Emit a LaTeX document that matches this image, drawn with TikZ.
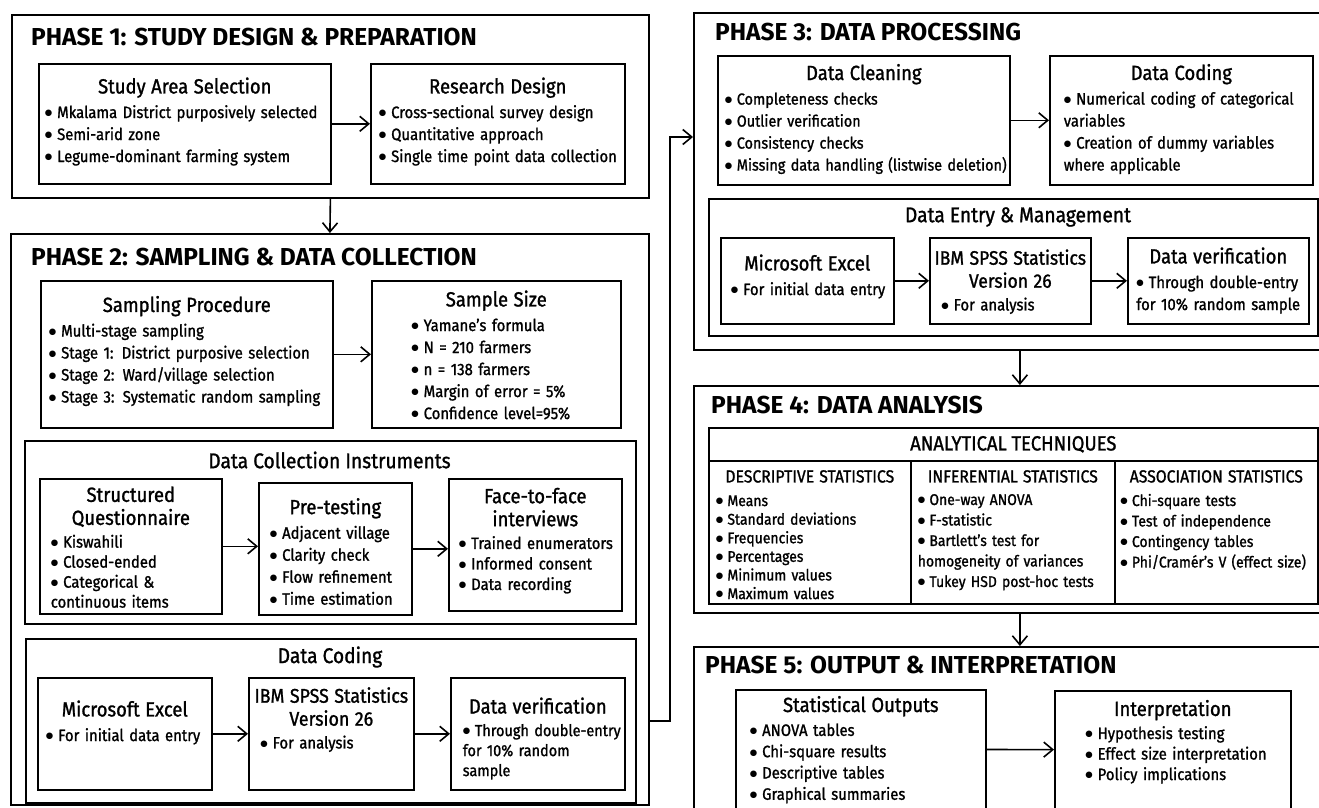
\documentclass[tikz,border=0pt]{standalone}
\usepackage{fontspec}
\setmainfont{Fira Sans}[FakeStretch=0.9, FakeBold=1.2]
\newfontfamily\titlefont{Fira Sans}[FakeStretch=1.0]
\newfontfamily\dotfont{DejaVu Sans}
\usetikzlibrary{arrows.meta,positioning,calc}

% box header, bullet line, continued line and extra room below
\newcommand{\hd}[2][20.5]{\par\noindent\makebox[\linewidth]{\fontsize{#1}{23}\selectfont
    \begin{tabular}{@{}c@{}}#2\end{tabular}}\par\vspace{2pt}}
\newcommand{\bl}[1]{\par\noindent\hangindent=0.75em\hangafter=1%
    \makebox[0.75em][l]{\raisebox{2.2pt}{\dotfont\fontsize{8.5}{9}\selectfont ●}}\mbox{#1}}
\newcommand{\more}[1]{\\\mbox{#1}}
\newcommand{\lift}[1]{\par\nointerlineskip\vspace{#1}\hbox{}}

\begin{document}
\begin{tikzpicture}[x=1pt,y=-1pt,
    phase/.style={draw, line width=1.8pt, anchor=north west, inner sep=0pt},
    ptitle/.style={anchor=west, inner sep=0pt, font=\titlefont\bfseries\fontsize{24.5}{28}\selectfont},
    box/.style={draw, line width=1.6pt, anchor=north west, inner sep=0pt, align=left,
        font=\fontsize{16.5}{22}\selectfont},
    stitle/.style={inner sep=0pt, font=\fontsize{21.3}{24}\selectfont},
    flow/.style={line width=1.6pt, -{Straight Barb[length=9pt,width=15pt,line width=1.6pt]}}]

    \useasboundingbox (0,0) rectangle (1319,807);
    \clip (0,0) rectangle (1319,807);

    % Phase 1
    \node[phase, minimum width=637pt, minimum height=183pt] (p1) at (11,14) {};
    \node[ptitle] (t1) at (31,37) {PHASE 1: STUDY DESIGN \& PREPARATION};
    \node[box, minimum width=292pt, minimum height=120pt, text width=280pt] (area) at (38,63) {%
        \hd{Study Area Selection}\bl{Mkalama District purposively selected}\bl{Semi-arid zone}%
        \bl{Legume-dominant farming system}\lift{10pt}};
    \node[box, minimum width=254pt, minimum height=120pt, text width=238pt] (design) at (370,63) {%
        \hd{Research Design}\bl{Cross-sectional survey design}\bl{Quantitative approach}%
        \bl{Single time point data collection}\lift{10pt}};
    \draw[flow] (area) -- (design);

    % Phase 2
    \node[phase, minimum width=638pt, minimum height=571pt] (p2) at (10,233) {};
    \node[ptitle] (t2) at (31,257) {PHASE 2: SAMPLING \& DATA COLLECTION};
    \node[box, minimum width=292pt, minimum height=147pt, text width=276pt] (proc) at (40,280) {%
        \hd{Sampling Procedure}\bl{Multi-stage sampling}\bl{Stage 1: District purposive selection}%
        \bl{Stage 2: Ward/village selection}\bl{Stage 3: Systematic random sampling}\lift{12pt}};
    \node[box, minimum width=249pt, minimum height=147pt, text width=170pt] (size) at (371,280) {%
        \hd{Sample Size}\bl{Yamane's formula}\bl{N = 210 farmers}\bl{n = 138 farmers}%
        \bl{Margin of error = 5\%}\bl{Confidence level=95\%}\lift{4pt}};
    \draw[flow] (proc) -- (size);

    \node[box, minimum width=611pt, minimum height=183pt] (instr) at (24,440) {};
    \node[stitle] (instrtl) at (329.5,460) {Data Collection Instruments};
    \node[box, minimum width=182pt, minimum height=135pt, text width=160pt,
        font=\fontsize{16.5}{20}\selectfont] (quest) at (39,478) {%
        \hd{Structured\\Questionnaire}\bl{Kiswahili}\bl{Closed-ended}\bl{Categorical \&}\more{continuous items}};
    \node[box, minimum width=153pt, minimum height=132pt, text width=131pt] (pretest) at (258,482) {%
        \hd{Pre-testing}\bl{Adjacent village}\bl{Clarity check}\bl{Flow refinement}\bl{Time estimation}};
    \node[box, minimum width=173pt, minimum height=132pt, text width=153pt,
        font=\fontsize{16.5}{20.5}\selectfont] (face) at (448,478) {%
        \hd{Face-to-face\\interviews}\bl{Trained enumerators}\bl{Informed consent}\bl{Data recording}%
        \lift{10pt}};
    \draw[flow] (quest.east) -- (quest.east -| pretest.west);
    \draw[flow] (pretest.east) -- (pretest.east -| face.west);

    \node[box, minimum width=610pt, minimum height=164pt] (coding) at (25,638) {};
    \node[stitle] (codingtl) at (330,657) {Data Coding};
    \node[box, minimum width=174pt, minimum height=112pt, text width=158pt] (excel) at (37,677) {%
        \hd{Microsoft Excel}\bl{For initial data entry}\lift{28pt}};
    \node[box, minimum width=165pt, minimum height=112pt, text width=142pt] (spss) at (248,677) {%
        \hd[19.8]{IBM SPSS Statistics\\Version 26}\bl{For analysis}\lift{30pt}};
    \node[box, minimum width=174pt, minimum height=112pt, text width=150pt,
        font=\fontsize{16.1}{20}\selectfont] (verif) at (450,677) {%
        \hd{Data verification}\bl{Through double-entry}\more{for 10\% random}\more{sample}\lift{-6pt}};
    \draw[flow] (excel) -- (spss);
    \draw[flow] (spss) -- (verif);

    % Phase 3
    \node[phase, minimum width=652pt, minimum height=337pt] (p3) at (693,12) {};
    \node[ptitle] (t3) at (715,32) {PHASE 3: DATA PROCESSING};
    \node[box, minimum width=292pt, minimum height=129pt, text width=278pt,
        font=\fontsize{16}{22}\selectfont] (clean) at (717,55) {%
        \hd{Data Cleaning}\bl{Completeness checks}\bl{Outlier verification}\bl{Consistency checks}%
        \bl{Missing data handling (listwise deletion)}\lift{8pt}};
    \node[box, minimum width=263pt, minimum height=129pt, text width=235pt] (code) at (1049,55) {%
        \hd{Data Coding}\bl{Numerical coding of categorical}\more{variables}%
        \bl{Creation of dummy variables}\more{where applicable}\lift{8pt}};
    \draw[flow] (clean) -- (code);

    \node[box, minimum width=609pt, minimum height=137pt] (entry) at (708,198) {};
    \node[stitle] (entrytl) at (1018,217) {Data Entry \& Management};
    \node[box, minimum width=173pt, minimum height=86pt, text width=153pt] (excel3) at (720,237) {%
        \hd{Microsoft Excel}\bl{For initial data entry}\lift{14pt}};
    \node[box, minimum width=161pt, minimum height=86pt, text width=138pt] (spss3) at (929,237) {%
        \hd[19.5]{IBM SPSS Statistics\\Version 26}\bl{For analysis}};
    \node[box, minimum width=181pt, minimum height=86pt, text width=164pt] (verif3) at (1127,237) {%
        \hd{Data verification}\bl{Through double-entry}\more{for 10\% random sample}\lift{6pt}};
    \draw[flow] (excel3) -- (spss3);
    \draw[flow] (spss3) -- (verif3);

    % Phase 4
    \node[phase, minimum width=652pt, minimum height=227pt] (p4) at (693,385) {};
    \node[ptitle] (t4) at (711,405) {PHASE 4: DATA ANALYSIS};
    \node[box, minimum width=609pt, minimum height=33pt, align=center,
        font=\fontsize{20.5}{22}\selectfont] (tech) at (708,427) {ANALYTICAL TECHNIQUES};
    \node[box, minimum width=202pt, minimum height=143pt] (desc) at (708,460) {};
    \node[box, minimum width=204pt, minimum height=143pt] (infer) at (910,460) {};
    \node[box, minimum width=203pt, minimum height=143pt] (assoc) at (1114,460) {};
    \node[anchor=north, inner sep=0pt, text width=188pt, align=left,
        font=\fontsize{15.5}{18.6}\selectfont] (desctxt) at ([yshift=-10pt]desc.north) {%
        {\centering\fontsize{17.5}{20}\selectfont DESCRIPTIVE STATISTICS\par}\vspace{5pt}%
        \bl{Means}\bl{Standard deviations}\bl{Frequencies}\bl{Percentages}\bl{Minimum values}\bl{Maximum values}};
    \node[anchor=north, inner sep=0pt, text width=190pt, align=left,
        font=\fontsize{15.5}{20.5}\selectfont] (infertxt) at ([yshift=-10pt]infer.north) {%
        {\centering\fontsize{17.5}{20}\selectfont INFERENTIAL STATISTICS\par}\vspace{2pt}%
        \bl{One-way ANOVA}\bl{F-statistic}\bl{Bartlett's test for}\more{homogeneity of variances}%
        \bl{Tukey HSD post-hoc tests}};
    \node[anchor=north, inner sep=0pt, text width=192pt, align=left,
        font=\fontsize{15.5}{20.5}\selectfont] (assoctxt) at ([yshift=-10pt]assoc.north) {%
        {\centering\fontsize{17.5}{20}\selectfont ASSOCIATION STATISTICS\par}\vspace{3pt}%
        \bl{Chi-square tests}\bl{Test of independence}\bl{Contingency tables}\bl{Phi/Cramér's V (effect size)}};

    % Phase 5
    \node[phase, minimum width=652pt, minimum height=190pt] (p5) at (693,646) {};
    \node[ptitle] (t5) at (705,665) {PHASE 5: OUTPUT \& INTERPRETATION};
    \node[box, minimum width=250pt, minimum height=119pt, text width=222pt,
        font=\fontsize{16.5}{21.3}\selectfont] (outputs) at (735,689) {%
        \hd{Statistical Outputs}\bl{ANOVA tables}\bl{Chi-square results}\bl{Descriptive tables}%
        \bl{Graphical summaries}\lift{4pt}};
    \node[box, minimum width=236pt, minimum height=118pt, text width=175pt,
        font=\fontsize{16.5}{20.5}\selectfont] (interp) at (1054,690) {%
        \hd{Interpretation}\bl{Hypothesis testing}\bl{Effect size interpretation}\bl{Policy implications}%
        \lift{20pt}};
    \draw[flow] (outputs) -- (interp);

    % links between phases
    \coordinate (turn) at (670,137);
    \draw[flow] (p1.south) -- (p2.north);
    \draw[flow] (p2.east |- coding.center) -| (turn) -- (p3.west |- turn);
    \draw[flow] (p3.south) -- (p4.north);
    \draw[flow] (p4.south) -- (p5.north);
\end{tikzpicture}
\end{document}
